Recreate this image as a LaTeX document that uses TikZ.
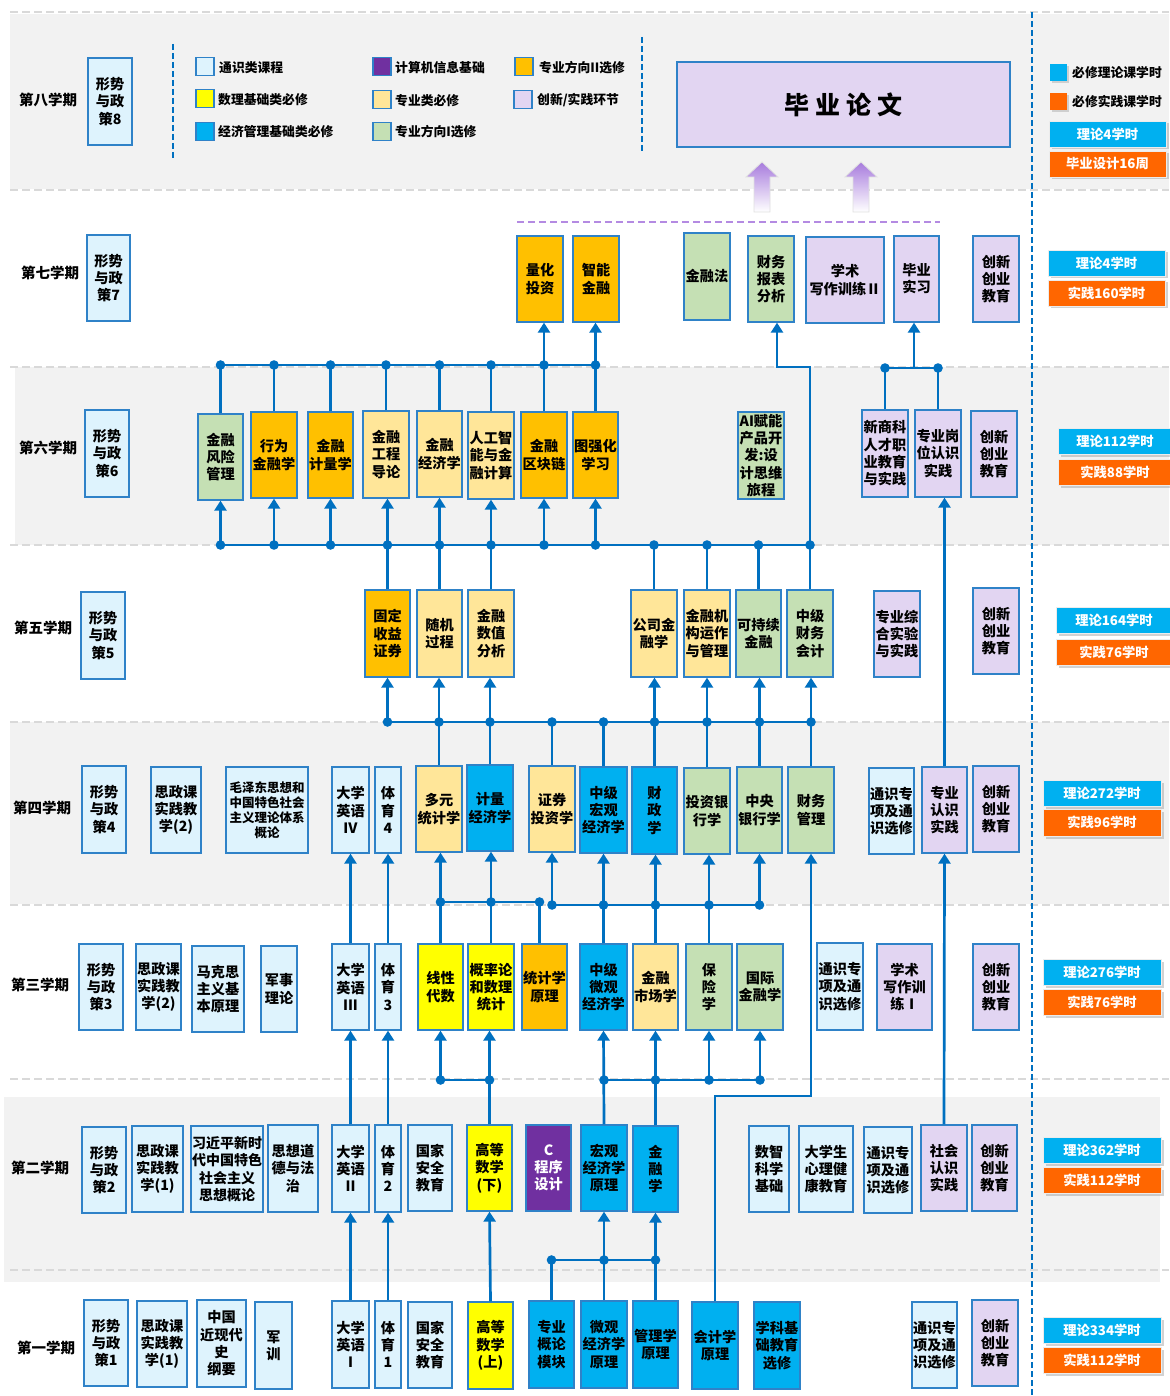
\documentclass[tikz,border=0pt]{standalone}
\usepackage{fontspec}
\setmainfont{Noto Sans CJK SC}
\usetikzlibrary{arrows.meta,shadows}
\definecolor{kTS}{HTML}{DEF3FD}
\definecolor{kSL}{HTML}{FFFF00}
\definecolor{kJG}{HTML}{00B0F0}
\definecolor{kJS}{HTML}{7030A0}
\definecolor{kZB}{HTML}{FFE699}
\definecolor{kZ1}{HTML}{C5E0B4}
\definecolor{kZ2}{HTML}{FFC000}
\definecolor{kCX}{HTML}{E2D5F2}
\definecolor{bord}{HTML}{2F82C8}
\definecolor{conn}{HTML}{0070C0}
\definecolor{bandc}{HTML}{F2F2F2}
\definecolor{dashc}{HTML}{D9D9D9}
\definecolor{barB}{HTML}{00B0F0}
\definecolor{barO}{HTML}{FF6600}
\definecolor{arrP}{HTML}{A77BDD}
\definecolor{purd}{HTML}{B48AE2}
\tikzset{
  cb/.style={draw=bord, line width=1.3pt, inner sep=0pt, align=center, font=\bfseries\fontsize{14.2}{17.3}\selectfont},
  kts/.style={cb, fill=kTS}, ksl/.style={cb, fill=kSL}, kjg/.style={cb, fill=kJG},
  kjs/.style={cb, fill=kJS, text=white}, kzb/.style={cb, fill=kZB}, kzo/.style={cb, fill=kZ1},
  kzt/.style={cb, fill=kZ2}, kcx/.style={cb, fill=kCX},
  ln/.style={draw=conn, line width=2.7pt},
  ar/.style={ln, -{Triangle[width=12pt,length=10pt]}},
  semlab/.style={font=\bfseries\fontsize{14.5}{16}\selectfont, inner sep=0pt},
  lgt/.style={font=\bfseries\fontsize{12.8}{14}\selectfont, anchor=west, inner sep=0pt},
  barb/.style={draw=white!85!gray, line width=0.8pt, inner sep=0pt, text=white,
     font=\bfseries\fontsize{13.3}{15}\selectfont,
     drop shadow={shadow xshift=2.5pt, shadow yshift=-2.5pt, opacity=0.35, fill=gray}},
  band/.style={fill=bandc},
  sepl/.style={draw=dashc, line width=2pt, dash pattern=on 8pt off 4pt},
  vsep/.style={draw=conn, line width=1.8pt, dash pattern=on 6pt off 3pt},
}
\newcommand\bx[7]{\node[#1,minimum width={(#5-#3)*1pt},minimum height={(#6-#4)*1pt}] (#2) at ({(#3+#5)/2},{(#4+#6)/2}) {#7};}
\newcommand\br[7]{\node[barb,fill=#1,minimum width={(#5-#3)*1pt},minimum height={(#6-#4)*1pt}] (#2) at ({(#3+#5)/2},{(#4+#6)/2}) {#7};}
\newcommand\dt[1]{\fill[conn] (#1) circle (4.8pt);}
\newcommand\fatarrow[1]{\shade[top color=arrP, bottom color=white, draw=black!12, line width=0.8pt]
  (#1-8,212) -- (#1-8,177) -- (#1-16,177) -- (#1,162) -- (#1+16,177) -- (#1+8,177) -- (#1+8,212) -- cycle;}
\begin{document}
\begin{tikzpicture}[x=1pt,y=-1pt]
\useasboundingbox (0,0) rectangle (1169,1396);
\fill[white] (0,0) rectangle (1169,1396);
% bands
\fill[band] (10,14) rectangle (1169,189);
\fill[band] (15,367) rectangle (1169,545);
\fill[band] (10,722) rectangle (1169,904);
\fill[band] (4,1097) rectangle (1160,1282);
\foreach \yy in {12,190,367,545,722,905,1079,1270} {\draw[sepl] (10,\yy) -- (1169,\yy);}
\draw[vsep] (1032,12) -- (1032,1396);
% semester labels
\node[semlab] (l8) at (48,100) {第八学期};
\node[semlab] (l7) at (50,273) {第七学期};
\node[semlab] (l6) at (48,448) {第六学期};
\node[semlab] (l5) at (43,628) {第五学期};
\node[semlab] (l4) at (42,808) {第四学期};
\node[semlab] (l3) at (40,985) {第三学期};
\node[semlab] (l2) at (40,1168) {第二学期};
\node[semlab] (l1) at (46,1348) {第一学期};
% ===== semester 8
\bx{kts}{p8}{88}{58}{132}{145}{形势\\与政\\策8}
\draw[vsep] (173,44) -- (173,160);
\draw[vsep] (642,37) -- (642,153);
\node[kts, minimum size=18pt] (q1) at (205,66.5) {};
\node[ksl, minimum size=18pt] (q2) at (205,98.5) {};
\node[kjg, minimum size=18pt] (q3) at (205,131.5) {};
\node[kjs, minimum size=18pt] (q4) at (382,66.5) {};
\node[kzb, minimum size=18pt] (q5) at (382,99.5) {};
\node[kzo, minimum size=18pt] (q6) at (382,131.5) {};
\node[kzt, minimum size=18pt] (q7) at (524,66.5) {};
\node[kcx, minimum size=18pt] (q8) at (523,99.5) {};
\node[lgt] (t1) at (219,68) {通识类课程};
\node[lgt] (t2) at (218,100) {数理基础类必修};
\node[lgt] (t3) at (218,132) {经济管理基础类必修};
\node[lgt] (t4) at (395,68) {计算机信息基础};
\node[lgt] (t5) at (395,101) {专业类必修};
\node[lgt] (t6) at (395,132) {专业方向I选修};
\node[lgt] (t7) at (539,68) {专业方向II选修};
\node[lgt] (t8) at (537,100) {创新/实践环节};
\node[kcx, minimum width=333pt, minimum height=85pt, font=\bfseries\fontsize{25}{28}\selectfont] (thesis) at (843.5,104.5) {毕 业 论 文};
\fatarrow{762}
\fatarrow{861}
\draw[draw=purd, line width=2pt, dash pattern=on 7pt off 4pt] (517,222) -- (940,222);
\node[fill=barB, minimum size=17pt, inner sep=0pt, drop shadow={shadow xshift=2pt, shadow yshift=-2pt, opacity=0.3, fill=gray}] (sqb) at (1058.5,72.5) {};
\node[fill=barO, minimum size=17pt, inner sep=0pt, drop shadow={shadow xshift=2pt, shadow yshift=-2pt, opacity=0.3, fill=gray}] (sqo) at (1058.5,101.5) {};
\node[lgt] (tb) at (1072,73) {必修理论课学时};
\node[lgt] (to) at (1072,102) {必修实践课学时};
\br{barB}{r8a}{1049}{121}{1166}{147}{理论4学时}
\br{barO}{r8b}{1049}{151}{1166}{177}{毕业设计16周}
% ===== semester 7
\bx{kts}{p7}{87}{235}{130}{321}{形势\\与政\\策7}
\bx{kzt}{lh}{517}{236}{563}{322}{量化\\投资}
\bx{kzt}{zn}{573}{236}{619}{322}{智能\\金融}
\bx{kzo}{jrf}{684}{233}{730}{320}{金融法}
\bx{kzo}{cwbb}{748}{236}{794}{322}{财务\\报表\\分析}
\bx{kcx}{xs2}{806}{237}{884}{323}{学术\\写作训练Ⅱ}
\bx{kcx}{bysx}{894}{236}{939}{322}{毕业\\实习}
\bx{kcx}{cx7}{973}{236}{1019}{322}{创新\\创业\\教育}
\br{barB}{r7a}{1048}{250}{1165}{276}{理论4学时}
\br{barO}{r7b}{1048}{280}{1165}{306}{实践160学时}
% ===== semester 6
\bx{kts}{p6}{85}{410}{129}{497}{形势\\与政\\策6}
\bx{kzo}{fx}{198}{414}{243}{500}{金融\\风险\\管理}
\bx{kzt}{xw}{251}{412}{297}{498}{行为\\金融学}
\bx{kzt}{jl}{308}{412}{353}{498}{金融\\计量学}
\bx{kzb}{gc}{363}{411}{409}{498}{金融\\工程\\导论}
\bx{kzb}{jj}{417}{411}{462}{497}{金融\\经济学}
\bx{kzb}{ai}{468}{412}{514}{499}{人工智\\能与金\\融计算}
\bx{kzt}{qk}{521}{412}{567}{498}{金融\\区块链}
\bx{kzt}{tq}{573}{412}{618}{498}{图强化\\学习}
\bx{kzo}{aip}{738}{412}{784}{499}{AI赋能\\产品开\\发:设\\计思维\\旅程}
\bx{kcx}{xsk}{862}{410}{908}{497}{新商科\\人才职\\业教育\\与实践}
\bx{kcx}{gw}{915}{410}{961}{497}{专业岗\\位认识\\实践}
\bx{kcx}{cx6}{971}{411}{1017}{497}{创新\\创业\\教育}
\br{barB}{r6a}{1058}{428}{1172}{454}{理论112学时}
\br{barO}{r6b}{1058}{459}{1172}{485}{实践88学时}
% ===== semester 5
\bx{kts}{p5}{81}{592}{125}{679}{形势\\与政\\策5}
\bx{kzt}{gd}{365}{590}{410}{677}{固定\\收益\\证券}
\bx{kzb}{sj}{417}{590}{462}{677}{随机\\过程}
\bx{kzb}{sz}{468}{590}{514}{677}{金融\\数值\\分析}
\bx{kzb}{gs}{631}{590}{677}{677}{公司金\\融学}
\bx{kzb}{jg}{684}{590}{730}{677}{金融机\\构运作\\与管理}
\bx{kzo}{kc}{736}{590}{781}{677}{可持续\\金融}
\bx{kzo}{zc}{787}{590}{833}{677}{中级\\财务\\会计}
\bx{kcx}{zh}{874}{591}{920}{677}{专业综\\合实验\\与实践}
\bx{kcx}{cx5}{973}{588}{1019}{674}{创新\\创业\\教育}
\br{barB}{r5a}{1056}{607}{1172}{633}{理论164学时}
\br{barO}{r5b}{1056}{639}{1172}{665}{实践76学时}
% ===== semester 4
\bx{kts}{p4}{82}{766}{126}{853}{形势\\与政\\策4}
\bx{kts}{sz4}{151}{767}{201}{853}{思政课\\实践教\\学(2)}
\bx{kts,font=\bfseries\fontsize{12.5}{15}\selectfont}{mao}{226}{767}{308}{853}{毛泽东思想和\\中国特色社会\\主义理论体系\\概论}
\bx{kts}{e4}{332}{767}{369}{853}{大学\\英语\\IV}
\bx{kts}{ty4}{375}{767}{401}{853}{体\\育\\4}
\bx{kzb}{dy}{416}{766}{462}{852}{多元\\统计学}
\bx{kjg}{jlj}{467}{765}{513}{851}{计量\\经济学}
\bx{kzb}{zq}{529}{766}{575}{852}{证券\\投资学}
\bx{kjg}{hg}{580}{767}{627}{853}{中级\\宏观\\经济学}
\bx{kjg}{cz}{632}{767}{677}{854}{财\\政\\学}
\bx{kzo}{tzyh}{684}{768}{730}{854}{投资银\\行学}
\bx{kzo}{zy}{737}{767}{782}{853}{中央\\银行学}
\bx{kzo}{cwgl}{788}{767}{834}{853}{财务\\管理}
\bx{kts}{ts4}{869}{768}{914}{854}{通识专\\项及通\\识选修}
\bx{kcx}{rs4}{922}{767}{967}{853}{专业\\认识\\实践}
\bx{kcx}{cx4}{973}{766}{1019}{852}{创新\\创业\\教育}
\br{barB}{r4a}{1043}{780}{1161}{806}{理论272学时}
\br{barO}{r4b}{1043}{809}{1161}{836}{实践96学时}
% ===== semester 3
\bx{kts}{p3}{79}{944}{123}{1030}{形势\\与政\\策3}
\bx{kts}{sz3}{136}{944}{181}{1030}{思政课\\实践教\\学(2)}
\bx{kts}{mks}{192}{946}{244}{1032}{马克思\\主义基\\本原理}
\bx{kts}{jsl}{261}{946}{297}{1032}{军事\\理论}
\bx{kts}{e3}{332}{944}{369}{1030}{大学\\英语\\III}
\bx{kts}{ty3}{375}{944}{401}{1030}{体\\育\\3}
\bx{ksl}{xd}{418}{944}{463}{1030}{线性\\代数}
\bx{ksl}{gl}{468}{944}{514}{1030}{概率论\\和数理\\统计}
\bx{kzt}{tj}{522}{944}{567}{1030}{统计学\\原理}
\bx{kjg}{wg}{580}{944}{627}{1030}{中级\\微观\\经济学}
\bx{kzb}{sc}{633}{944}{678}{1030}{金融\\市场学}
\bx{kzo}{bxx}{686}{944}{732}{1030}{保\\险\\学}
\bx{kzo}{gj}{737}{944}{783}{1030}{国际\\金融学}
\bx{kts}{ts3}{817}{943}{863}{1030}{通识专\\项及通\\识选修}
\bx{kcx}{xs1}{877}{944}{932}{1030}{学术\\写作训\\练Ⅰ}
\bx{kcx}{cx3}{973}{944}{1019}{1030}{创新\\创业\\教育}
\br{barB}{r3a}{1043}{959}{1161}{985}{理论276学时}
\br{barO}{r3b}{1043}{989}{1161}{1015}{实践76学时}
% ===== semester 2
\bx{kts}{p2}{82}{1127}{126}{1213}{形势\\与政\\策2}
\bx{kts}{sz2}{132}{1126}{183}{1212}{思政课\\实践教\\学(1)}
\bx{kts,font=\bfseries\fontsize{14}{17.3}\selectfont}{xjp}{191}{1126}{263}{1212}{习近平新时\\代中国特色\\社会主义\\思想概论}
\bx{kts}{sxdd}{268}{1125}{318}{1212}{思想道\\德与法\\治}
\bx{kts}{e2}{332}{1125}{369}{1212}{大学\\英语\\II}
\bx{kts}{ty2}{375}{1125}{401}{1212}{体\\育\\2}
\bx{kts}{aq2}{408}{1125}{452}{1211}{国家\\安全\\教育}
\bx{ksl}{gs2}{467}{1125}{512}{1211}{高等\\数学\\(下)}
\bx{kjs}{cp}{526}{1125}{571}{1211}{C\\程序\\设计}
\bx{kjg}{hgy}{581}{1125}{627}{1211}{宏观\\经济学\\原理}
\bx{kjg}{jrx}{633}{1126}{678}{1212}{金\\融\\学}
\bx{kts}{szk}{749}{1126}{789}{1212}{数智\\科学\\基础}
\bx{kts}{xl}{799}{1126}{853}{1212}{大学生\\心理健\\康教育}
\bx{kts}{ts2}{864}{1127}{912}{1213}{通识专\\项及通\\识选修}
\bx{kcx}{shsj}{921}{1125}{967}{1211}{社会\\认识\\实践}
\bx{kcx}{cx2}{972}{1125}{1017}{1211}{创新\\创业\\教育}
\br{barB}{r2a}{1043}{1137}{1161}{1163}{理论362学时}
\br{barO}{r2b}{1043}{1167}{1161}{1193}{实践112学时}
% ===== semester 1
\bx{kts}{p1}{84}{1300}{128}{1386}{形势\\与政\\策1}
\bx{kts}{sz1}{137}{1301}{187}{1387}{思政课\\实践教\\学(1)}
\bx{kts}{zgjd}{197}{1300}{246}{1387}{中国\\近现代\\史\\纲要}
\bx{kts}{jx}{255}{1302}{292}{1389}{军\\训}
\bx{kts}{e1}{332}{1301}{369}{1388}{大学\\英语\\I}
\bx{kts}{ty1}{375}{1301}{401}{1388}{体\\育\\1}
\bx{kts}{aq1}{408}{1302}{452}{1388}{国家\\安全\\教育}
\bx{ksl}{gs1}{468}{1302}{513}{1389}{高等\\数学\\(上)}
\bx{kjg}{zygl}{529}{1301}{574}{1388}{专业\\概论\\模块}
\bx{kjg}{wgy}{581}{1301}{627}{1388}{微观\\经济学\\原理}
\bx{kjg}{glx}{633}{1301}{678}{1388}{管理学\\原理}
\bx{kjg}{kj}{692}{1302}{738}{1389}{会计学\\原理}
\bx{kjg}{xkj}{754}{1302}{800}{1389}{学科基\\础教育\\选修}
\bx{kts}{ts1}{912}{1302}{957}{1388}{通识专\\项及通\\识选修}
\bx{kcx}{cx1}{972}{1300}{1018}{1386}{创新\\创业\\教育}
\br{barB}{r1a}{1043}{1317}{1161}{1343}{理论334学时}
\br{barO}{r1b}{1043}{1347}{1161}{1373}{实践112学时}
% ===== connectors: sem1 -> sem2
\draw[ar] (e1.north) -- (e2.south);
\draw[ar] (ty1.north) -- (ty2.south);
\draw[ar] (gs1.north) -- (gs2.south);
\coordinate (b12) at (0,1260);
\draw[ln] (zygl.north) -- (zygl.north |- b12) -- (glx.north |- b12);
\draw[ar] (wgy.north) -- (hgy.south);
\draw[ar] (glx.north) -- (jrx.south);
\dt{zygl.north |- b12} \dt{wgy.north |- b12} \dt{glx.north |- b12}
\coordinate (kjc) at (811,1096);
\draw[ar] (kj.north) |- (kjc) -- (cwgl.south -| kjc);
\draw[ar] (shsj.north) -- (rs4.south);
% sem2 -> sem3
\draw[ar] (e2.north) -- (e3.south);
\draw[ar] (ty2.north) -- (ty3.south);
\coordinate (b23) at (0,1080);
\draw[ln] (gs2.north |- b23) -- (xd.south |- b23);
\draw[ar] (xd.south |- b23) -- (xd.south);
\draw[ar] (gs2.north) -- (gl.south -| gs2.north);
\draw[ln] (hgy.north |- b23) -- (gj.south |- b23);
\draw[ar] (hgy.north) -- (wg.south);
\draw[ar] (jrx.north) -- (sc.south);
\draw[ar] (bxx.south |- b23) -- (bxx.south);
\draw[ar] (gj.south |- b23) -- (gj.south);
\dt{xd.south |- b23} \dt{gs2.north |- b23} \dt{hgy.north |- b23} \dt{jrx.north |- b23} \dt{bxx.south |- b23} \dt{gj.south |- b23}
% sem3 -> sem4
\draw[ar] (e3.north) -- (e4.south);
\draw[ar] (ty3.north) -- (ty4.south);
\coordinate (b34a) at (0,902);
\coordinate (b34b) at (0,905);
\draw[ln] ([xshift=-5pt]tj.north) -- ([xshift=-5pt]tj.north |- b34a) -- (xd.north |- b34a);
\draw[ar] (xd.north) -- (dy.south -| xd.north);
\draw[ar] (gl.north) -- (jlj.south -| gl.north);
\dt{xd.north |- b34a} \dt{gl.north |- b34a} \dt{[xshift=-5pt]tj.north |- b34a}
\draw[ln] (zq.south |- b34b) -- (zy.south |- b34b);
\draw[ar] (zq.south |- b34b) -- (zq.south);
\draw[ar] (wg.north) -- (hg.south);
\draw[ar] (sc.north) -- (cz.south -| sc.north);
\draw[ar] (bxx.north) -- (tzyh.south -| bxx.north);
\draw[ar] (zy.south |- b34b) -- (zy.south);
\dt{zq.south |- b34b} \dt{wg.north |- b34b} \dt{sc.north |- b34b} \dt{bxx.north |- b34b} \dt{zy.south |- b34b}
% sem4 -> sem5
\coordinate (b45) at (0,722);
\draw[ln] (gd.south |- b45) -- (cwgl.north |- b45);
\draw[ar] (gd.south |- b45) -- (gd.south);
\draw[ar] (dy.north) -- (sj.south -| dy.north);
\draw[ar] (jlj.north) -- (sz.south -| jlj.north);
\draw[ln] (zq.north) -- (zq.north |- b45);
\draw[ln] (hg.north) -- (hg.north |- b45);
\draw[ar] (cz.north) -- (gs.south -| cz.north);
\draw[ar] (tzyh.north) -- (jg.south -| tzyh.north);
\draw[ar] (zy.north) -- (kc.south -| zy.north);
\draw[ar] (cwgl.north) -- (zc.south -| cwgl.north);
\dt{gd.south |- b45} \dt{dy.north |- b45} \dt{jlj.north |- b45} \dt{zq.north |- b45} \dt{hg.north |- b45}
\dt{cz.north |- b45} \dt{tzyh.north |- b45} \dt{zy.north |- b45} \dt{cwgl.north |- b45}
\draw[ar] (rs4.north) -- (gw.south -| rs4.north);
% sem5 -> sem6
\coordinate (b56) at (0,545);
\draw[ln] (fx.south |- b56) -- (zc.north |- b56);
\draw[ar] (fx.south |- b56) -- (fx.south);
\draw[ar] (xw.south |- b56) -- (xw.south);
\draw[ar] (jl.south |- b56) -- (jl.south);
\draw[ar] (gd.north) -- (gc.south -| gd.north);
\draw[ar] (sj.north) -- (jj.south -| sj.north);
\draw[ar] (sz.north) -- (ai.south -| sz.north);
\draw[ar] (qk.south |- b56) -- (qk.south);
\draw[ar] (tq.south |- b56) -- (tq.south);
\draw[ln] (gs.north) -- (gs.north |- b56);
\draw[ln] (jg.north) -- (jg.north |- b56);
\draw[ln] (kc.north) -- (kc.north |- b56);
\coordinate (cwt) at (777,367);
\draw[ar] (zc.north) |- (cwt) -- (cwbb.south -| cwt);
\dt{fx.south |- b56} \dt{xw.south |- b56} \dt{jl.south |- b56} \dt{gd.north |- b56} \dt{sj.north |- b56} \dt{sz.north |- b56}
\dt{qk.south |- b56} \dt{tq.south |- b56} \dt{gs.north |- b56} \dt{jg.north |- b56} \dt{kc.north |- b56} \dt{zc.north |- b56}
% sem6 -> sem7
\coordinate (b67) at (0,365);
\draw[ln] (fx.north |- b67) -- (tq.north |- b67);
\draw[ln] (fx.north) -- (fx.north |- b67);
\draw[ln] (xw.north) -- (xw.north |- b67);
\draw[ln] (jl.north) -- (jl.north |- b67);
\draw[ln] (gc.north) -- (gc.north |- b67);
\draw[ln] (jj.north) -- (jj.north |- b67);
\draw[ln] (ai.north) -- (ai.north |- b67);
\draw[ar] (qk.north) -- (lh.south -| qk.north);
\draw[ar] (tq.north) -- (zn.south -| tq.north);
\dt{fx.north |- b67} \dt{xw.north |- b67} \dt{jl.north |- b67} \dt{gc.north |- b67} \dt{jj.north |- b67} \dt{ai.north |- b67} \dt{qk.north |- b67} \dt{tq.north |- b67}
\coordinate (jn) at (914,368);
\draw[ln] (xsk.north) |- (gw.north |- jn) -- (gw.north);
\draw[ar] (jn) -- (bysx.south -| jn);
\dt{xsk.north |- jn} \dt{gw.north |- jn}
\end{tikzpicture}
\end{document}
